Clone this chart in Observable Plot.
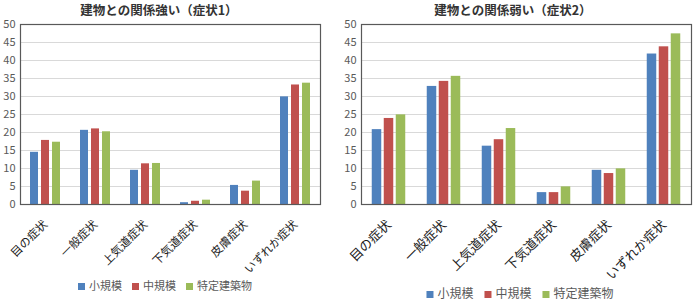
<!DOCTYPE html>
<html><head><meta charset="utf-8">
<script src="https://cdn.jsdelivr.net/npm/d3@7"></script>
<script src="https://cdn.jsdelivr.net/npm/@observablehq/plot@0.6"></script>
<style>
body{margin:0;background:#fff;font-family:"Noto Sans CJK JP",sans-serif;}
#wrap{position:relative;width:693px;height:301px;overflow:hidden;}
.panel{position:absolute;top:0;}
.title{position:absolute;font-size:12.5px;font-weight:bold;color:#333;white-space:nowrap;transform:translateX(-50%);}
.legend{position:absolute;color:#595959;white-space:nowrap;transform:translateX(-50%);display:flex;align-items:center;}
.legend span.sw{display:inline-block;width:7px;height:7px;margin-right:4px;}
</style></head>
<body><div id="wrap"></div>
<script>
const categories = ["目の症状","一般症状","上気道症状","下気道症状","皮膚症状","いずれか症状"];
const seriesNames = ["小規模","中規模","特定建築物"];
const colors = ["#4F81BD","#C0504D","#9BBB59"];
const yTicks = [0,5,10,15,20,25,30,35,40,45,50];
const title1 = "建物との関係強い（症状1）";
const title2 = "建物との関係弱い（症状2）";
// panel 1 values per series
const s1Small = [14.5,20.6,9.5,0.5,5.3,29.9];
const s1Mid   = [17.8,21.0,11.3,0.9,3.7,33.2];
const s1Spec  = [17.3,20.2,11.4,1.2,6.5,33.7];
// panel 2 values per series
const s2Small = [20.8,32.8,16.2,3.3,9.5,41.8];
const s2Mid   = [23.9,34.2,18.0,3.3,8.6,43.8];
const s2Spec  = [24.9,35.6,21.1,4.9,9.9,47.4];

function panel(series, opts){
  const {width, band, step, bw} = opts;
  const inset = (band - bw)/2;
  const marks = [
    Plot.gridY(yTicks, {stroke:"#d9d9d9", strokeOpacity:1, strokeWidth:1})
  ];
  series.forEach((vals,i)=>{
    const data = categories.map((c,j)=>({cat:c, v:vals[j]}));
    marks.push(Plot.barY(data, {x:"cat", y:"v", fill:colors[i], dx:(i-1)*step, insetLeft:inset, insetRight:inset}));
  });
  marks.push(Plot.frame({stroke:"#595959", strokeWidth:1.2}));
  marks.push(Plot.axisY(yTicks, {tickSize:0, tickPadding:5, fontSize:11, fill:"#595959"}));
  marks.push(Plot.axisX({tickSize:0, tickRotate:-45, tickPadding:opts.tp, fontSize:opts.xf, fill:"#1a1a1a", stroke:"#1a1a1a", strokeWidth:0.25}));
  return Plot.plot({
    width, height:260,
    marginLeft:20, marginRight:opts.mr, marginTop:24, marginBottom:56,
    style:{fontFamily:"'Noto Sans CJK JP', sans-serif", background:"transparent", overflow:"visible"},
    x:{domain:categories, padding:0, label:null},
    y:{domain:[0,50], label:null},
    marks
  });
}

const wrap = document.getElementById("wrap");
function place(el, left, width){
  const d = document.createElement("div"); d.className="panel"; d.style.left=left+"px"; d.style.width=width+"px";
  d.appendChild(el); wrap.appendChild(d);
}
place(panel([s1Small,s1Mid,s1Spec], {width:340, band:50, step:11, bw:8, mr:20, xf:11.5, tp:18}), 0, 340);
place(panel([s2Small,s2Mid,s2Spec], {width:352, band:55, step:12, bw:9.5, mr:2, xf:13, tp:18}), 341, 352);

function addTitle(text, cx){
  const t = document.createElement("div"); t.className="title"; t.textContent=text;
  t.style.left=cx+"px"; t.style.top="0px"; wrap.appendChild(t);
}
addTitle(title1, 159); addTitle(title2, 513);

function addLegend(cx, top, fs, gap){
  const l = document.createElement("div"); l.className="legend"; l.style.left=cx+"px"; l.style.top=top+"px";
  l.style.fontSize=fs+"px"; l.style.gap=gap+"px";
  seriesNames.forEach((n,i)=>{
    const it=document.createElement("span");
    it.innerHTML=`<span class="sw" style="background:${colors[i]}"></span>${n}`;
    l.appendChild(it);
  });
  wrap.appendChild(l);
}
addLegend(165, 277, 11, 10); addLegend(520, 284, 12, 11);
</script></body></html>
